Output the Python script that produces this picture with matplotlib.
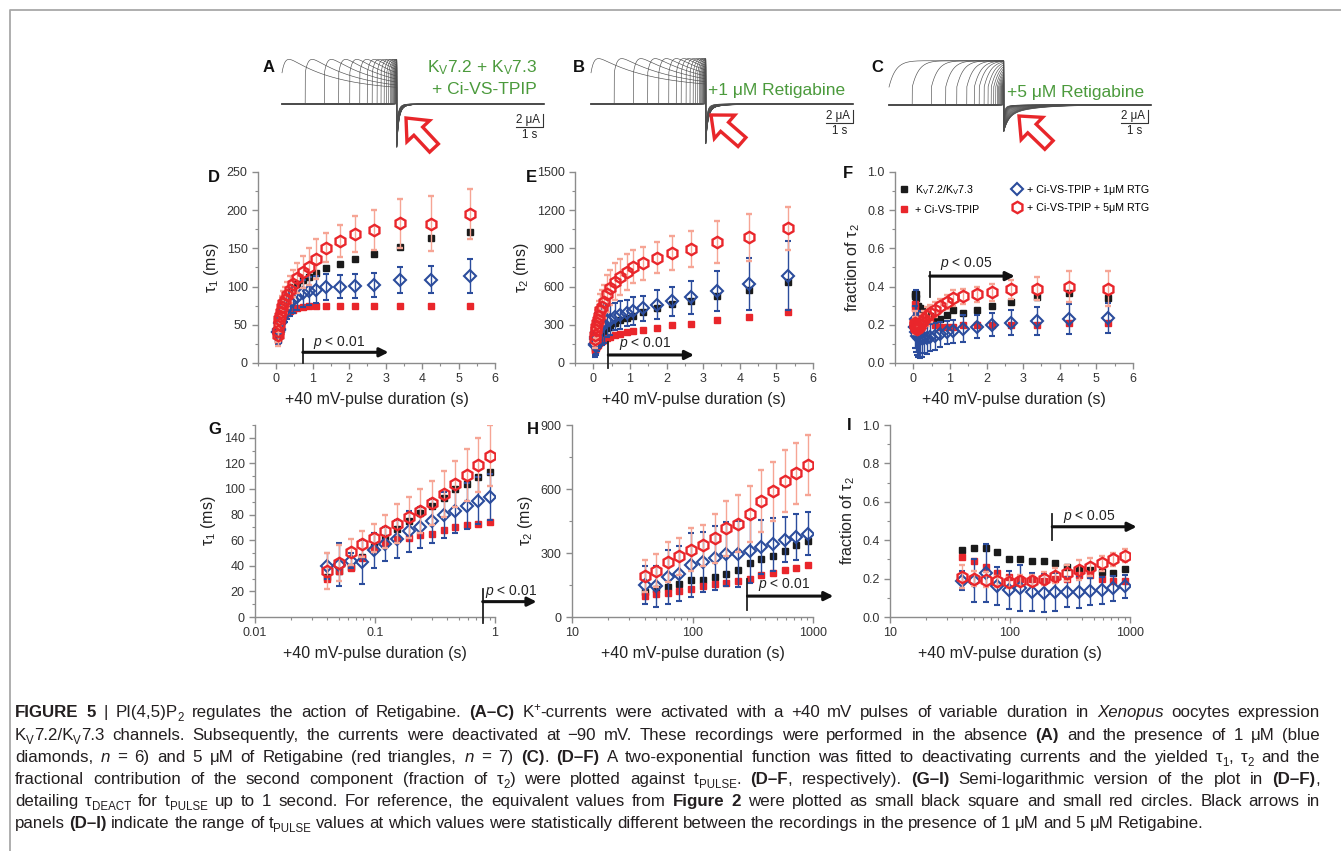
import re
import numpy as np
import matplotlib
matplotlib.use('Agg')
import matplotlib.pyplot as plt
from matplotlib import font_manager, patches
from matplotlib.lines import Line2D
from matplotlib.ticker import MultipleLocator, LogLocator, NullFormatter, FormatStrFormatter

W, H = 1341, 851


def has_font(name):
    try:
        font_manager.findfont(name, fallback_to_default=False)
        return True
    except ValueError:
        return False


FONT = 'Liberation Sans' if has_font('Liberation Sans') else 'DejaVu Sans'
NARROW = has_font('Liberation Sans Narrow')
CAP_FONT = 'Liberation Sans Narrow' if NARROW else FONT
CAP_SIZE = 13.0 if NARROW else 12.2

plt.rcParams['font.family'] = [FONT, 'DejaVu Sans']
plt.rcParams['mathtext.fontset'] = 'custom'
plt.rcParams['mathtext.rm'] = FONT
plt.rcParams['mathtext.it'] = FONT + ':italic'
plt.rcParams['mathtext.bf'] = FONT + ':bold'

BLUE = '#2b4c9c'
RED = '#e9262b'
SALMON = '#f6a595'
BLACK = '#1b1b1b'
GREEN = '#4b9a3c'
AXC = '#8c8c8c'

# ---- data ----
# pulse durations (s)
pulse_s = [0.040, 0.050, 0.063, 0.078, 0.098, 0.122, 0.153, 0.191, 0.238, 0.298,
           0.373, 0.466, 0.582, 0.728, 0.909, 1.09, 1.37, 1.74, 2.15, 2.68, 3.39, 4.25, 5.31]

# tau1 (ms)
tau1_kv = [31, 36, 39, 47, 55, 62, 69, 75, 81, 87, 93, 100, 104, 109, 113,
           118, 124, 130, 136, 143, 152, 163, 171]
tau1_ci = [30, 36, 38, 46, 53, 58, 61, 62, 64, 65, 68, 70, 72, 73, 74,
           74, 74, 74, 74, 74, 74, 74, 75]
tau1_rtg1 = [40, 41, 44, 43, 52, 57, 61, 67, 70, 75, 80, 83, 87, 91, 94,
             96, 99, 100, 101, 102, 108, 109, 114]
tau1_rtg1_err = [10, 17, 6, 17, 14, 13, 15, 16, 16, 17, 18, 17, 18, 18, 18,
                 18, 17, 15, 16, 16, 17, 18, 22]
tau1_rtg5 = [36, 42, 51, 57, 62, 67, 73, 78, 83, 89, 96, 104, 111, 119, 126,
             136, 151, 160, 169, 174, 183, 182, 195]
tau1_rtg5_err = [14, 14, 10, 10, 11, 13, 15, 16, 17, 17, 18, 18, 20, 21, 24,
                 26, 19, 21, 24, 26, 32, 36, 33]

# tau2 (ms)
tau2_kv = [117, 130, 141, 156, 172, 175, 188, 203, 219, 254, 271, 286, 311, 336, 357,
           373, 404, 433, 464, 490, 527, 574, 639]
tau2_ci = [99, 106, 114, 124, 133, 144, 155, 161, 169, 177, 196, 208, 218, 230, 243,
           250, 258, 274, 295, 308, 334, 365, 397]
tau2_rtg1 = [149, 144, 188, 203, 243, 258, 277, 294, 294, 310, 329, 341, 363, 376, 391,
             410, 430, 459, 483, 516, 566, 621, 686]
tau2_rtg1_err = [90, 97, 125, 129, 149, 141, 150, 150, 155, 150, 128, 125, 106, 109, 102,
                 112, 97, 115, 117, 131, 156, 205, 271]
tau2_rtg5 = [192, 216, 258, 285, 316, 336, 368, 415, 438, 482, 543, 590, 637, 673, 712,
             756, 783, 827, 866, 895, 950, 989, 1057]
tau2_rtg5_err = [74, 77, 94, 86, 102, 97, 117, 130, 133, 132, 146, 138, 146, 141, 141,
                 131, 130, 120, 133, 143, 167, 185, 169]

# fraction of tau2
frac_kv = [0.35, 0.36, 0.36, 0.34, 0.30, 0.30, 0.29, 0.29, 0.28, 0.26, 0.25, 0.245, 0.235, 0.23, 0.25,
           0.275, 0.26, 0.28, 0.30, 0.32, 0.345, 0.365, 0.34]
frac_ci = [0.31, 0.29, 0.26, 0.23, 0.21, 0.20, 0.20, 0.19, 0.20, 0.20, 0.22, 0.22, 0.20, 0.19, 0.19,
           0.19, 0.20, 0.20, 0.20, 0.20, 0.20, 0.21, 0.21]
frac_rtg1 = [0.19, 0.19, 0.23, 0.16, 0.14, 0.15, 0.13, 0.125, 0.13, 0.13, 0.13, 0.135, 0.14, 0.15, 0.16,
             0.165, 0.18, 0.19, 0.20, 0.21, 0.22, 0.23, 0.235]
frac_rtg1_err = [0.05, 0.11, 0.15, 0.10, 0.10, 0.12, 0.10, 0.10, 0.10, 0.08, 0.085, 0.07, 0.07, 0.065, 0.06,
                 0.06, 0.07, 0.06, 0.06, 0.065, 0.075, 0.08, 0.08]
frac_rtg5 = [0.21, 0.20, 0.195, 0.185, 0.18, 0.19, 0.19, 0.20, 0.215, 0.23, 0.245, 0.26, 0.28, 0.30, 0.32,
             0.34, 0.35, 0.36, 0.37, 0.385, 0.39, 0.40, 0.39]
frac_rtg5_err = [0.06, 0.04, 0.04, 0.03, 0.03, 0.03, 0.03, 0.035, 0.04, 0.04, 0.05, 0.045, 0.04, 0.035, 0.035,
                 0.04, 0.04, 0.04, 0.045, 0.05, 0.06, 0.08, 0.09]

# significance arrows: start of bar, end of arrow, label
p_start = [0.73, 0.41, 0.45, 0.79, 286, 225]
p_end = [3.08, 2.75, 2.77, 2.22, 1475, 1136]
p_label = ['0.01', '0.01', '0.05', '0.01', '0.01', '0.05']

# current traces (A-C): model parameters
trace_title = [[r'K$_\mathrm{V}$7.2 + K$_\mathrm{V}$7.3', '+ Ci-VS-TPIP'],
               ['+1 μM Retigabine'], ['+5 μM Retigabine']]
trace_amp = [8.0, 8.0, 6.9]        # μA
trace_jump = [0.4, 0.4, 0.6]
trace_tau_act = [0.12, 0.12, 0.25]  # s
trace_plateau = [0.25, 0.3, 0.97]
trace_tau_dep = [1.8, 2.0, 3.0]     # s
tail_gain = [1.0, 0.9, 0.6]
record_s = 9.7

caption = [
    "**FIGURE 5** | PI(4,5)P_{2} regulates the action of Retigabine. **(A–C)** K^{+}-currents were activated with a +40 mV pulses of variable duration in *Xenopus* oocytes expression",
    "K_{V}7.2/K_{V}7.3 channels. Subsequently, the currents were deactivated at −90 mV. These recordings were performed in the absence **(A)** and the presence of 1 μM (blue",
    "diamonds, *n* = 6) and 5 μM of Retigabine (red triangles, *n* = 7) **(C)**. **(D–F)** A two-exponential function was fitted to deactivating currents and the yielded τ_{1}, τ_{2} and the",
    "fractional contribution of the second component (fraction of τ_{2}) were plotted against t_{PULSE}. **(D–F**, respectively). **(G–I)** Semi-logarithmic version of the plot in **(D–F)**,",
    "detailing τ_{DEACT} for t_{PULSE} up to 1 second. For reference, the equivalent values from **Figure 2** were plotted as small black square and small red circles. Black arrows in",
    "panels **(D–I)** indicate the range of t_{PULSE} values at which values were statistically different between the recordings in the presence of 1 μM and 5 μM Retigabine.",
]

fig = plt.figure(figsize=(W / 100, H / 100), dpi=100)


def px_axes(l, t, r, b):
    return fig.add_axes([l / W, 1 - b / H, (r - l) / W, (b - t) / H])


def style(ax, ylabel, xlabel='+40 mV-pulse duration (s)'):
    for s in ['top', 'right']:
        ax.spines[s].set_visible(False)
    for s in ['left', 'bottom']:
        ax.spines[s].set_color(AXC)
        ax.spines[s].set_linewidth(1.0)
    ax.tick_params(which='both', direction='out', color=AXC, labelcolor='#333333', labelsize=9)
    ax.tick_params(which='major', length=4, width=1)
    ax.tick_params(which='minor', length=2.3, width=0.8)
    ax.set_ylabel(ylabel, fontsize=11.5, color='#222222', labelpad=4)
    ax.set_xlabel(xlabel, fontsize=11.5, color='#222222', labelpad=5)


def plot_series(ax, x, kv, ci, r1, r1e, r5, r5e):
    ax.plot(x, kv, 's', color=BLACK, ms=4.3, zorder=3, clip_on=False)
    ax.plot(x, ci, 's', color=RED, ms=4.3, zorder=3, clip_on=False)
    ax.errorbar(x, r1, yerr=r1e, fmt='D', mfc='none', mec=BLUE, mew=1.5, ms=6.3,
                ecolor=BLUE, elinewidth=1, capsize=2, capthick=1, zorder=4)
    ax.errorbar(x, r5, yerr=r5e, fmt='h', mfc='none', mec=RED, mew=1.7, ms=8.2,
                ecolor=SALMON, elinewidth=1, capsize=2, capthick=1, zorder=5)


def p_arrow(ax, i, ylo, yhi, yarr, ytxt, xtxt):
    ax.plot([p_start[i], p_start[i]], [ylo, yhi], color='#222222', lw=1.3, clip_on=False, zorder=6)
    ax.annotate('', xy=(p_end[i], yarr), xytext=(p_start[i], yarr), annotation_clip=False,
                arrowprops=dict(arrowstyle='-|>', color='#111111', lw=2.2, mutation_scale=13,
                                shrinkA=0, shrinkB=0), zorder=6)
    ax.text(xtxt, ytxt, r'$\mathit{p}$ < ' + p_label[i], ha='center', va='baseline',
            fontsize=10, color='#222222')


n15 = 15
pulse_ms = [p * 1000 for p in pulse_s]

# ---- D ----
axD = px_axes(258, 172, 495, 363)
plot_series(axD, pulse_s, tau1_kv, tau1_ci, tau1_rtg1, tau1_rtg1_err, tau1_rtg5, tau1_rtg5_err)
axD.set_xlim(-0.5, 6)
axD.set_ylim(0, 250)
axD.xaxis.set_major_locator(MultipleLocator(1))
axD.xaxis.set_minor_locator(MultipleLocator(0.5))
axD.yaxis.set_major_locator(MultipleLocator(50))
axD.yaxis.set_minor_locator(MultipleLocator(25))
style(axD, r'$\mathrm{\tau_1}$ (ms)')
p_arrow(axD, 0, 0, 31, 14, 22, 1.73)

# ---- E ----
axE = px_axes(575, 172, 813, 363)
plot_series(axE, pulse_s, tau2_kv, tau2_ci, tau2_rtg1, tau2_rtg1_err, tau2_rtg5, tau2_rtg5_err)
axE.set_xlim(-0.5, 6)
axE.set_ylim(0, 1500)
axE.xaxis.set_major_locator(MultipleLocator(1))
axE.xaxis.set_minor_locator(MultipleLocator(0.5))
axE.yaxis.set_major_locator(MultipleLocator(300))
axE.yaxis.set_minor_locator(MultipleLocator(150))
style(axE, r'$\mathrm{\tau_2}$ (ms)')
p_arrow(axE, 1, -40, 165, 63, 126, 1.42)

# ---- F ----
axF = px_axes(895, 172, 1133, 363)
plot_series(axF, pulse_s, frac_kv, frac_ci, frac_rtg1, frac_rtg1_err, frac_rtg5, frac_rtg5_err)
axF.set_xlim(-0.5, 6)
axF.set_ylim(0, 1.0)
axF.xaxis.set_major_locator(MultipleLocator(1))
axF.xaxis.set_minor_locator(MultipleLocator(0.5))
axF.yaxis.set_major_locator(MultipleLocator(0.2))
axF.yaxis.set_minor_locator(MultipleLocator(0.1))
axF.yaxis.set_major_formatter(FormatStrFormatter('%.1f'))
style(axF, r'fraction of $\mathrm{\tau_2}$')
p_arrow(axF, 2, 0.344, 0.478, 0.455, 0.503, 1.45)
handles = [Line2D([], [], marker='s', ls='none', color=BLACK, ms=4.3),
           Line2D([], [], marker='s', ls='none', color=RED, ms=4.3),
           Line2D([], [], marker='D', ls='none', mfc='none', mec=BLUE, mew=1.5, ms=6.3),
           Line2D([], [], marker='h', ls='none', mfc='none', mec=RED, mew=1.7, ms=8.2)]
labels = [r'K$_\mathrm{V}$7.2/K$_\mathrm{V}$7.3', '+ Ci-VS-TPIP',
          '+ Ci-VS-TPIP + 1μM RTG', '+ Ci-VS-TPIP + 5μM RTG']
axF.legend(handles, labels, ncol=2, loc='upper left', bbox_to_anchor=(-0.01, 0.975),
           frameon=False, fontsize=7.7, handlelength=1.0, handletextpad=0.5,
           columnspacing=3.0, labelspacing=0.75, borderaxespad=0.2)

# ---- G ----
axG = px_axes(255, 425, 495, 617)
plot_series(axG, pulse_s[:n15], tau1_kv[:n15], tau1_ci[:n15], tau1_rtg1[:n15], tau1_rtg1_err[:n15],
            tau1_rtg5[:n15], tau1_rtg5_err[:n15])
axG.set_xscale('log')
axG.set_xlim(0.01, 1)
axG.set_ylim(0, 150)
axG.set_xticks([0.01, 0.1, 1])
axG.set_xticklabels(['0.01', '0.1', '1'])
axG.xaxis.set_minor_locator(LogLocator(subs=range(2, 10)))
axG.xaxis.set_minor_formatter(NullFormatter())
axG.yaxis.set_major_locator(MultipleLocator(20))
axG.yaxis.set_minor_locator(MultipleLocator(10))
style(axG, r'$\mathrm{\tau_1}$ (ms)')
p_arrow(axG, 3, -5, 22, 12, 17, 1.36)

# ---- H ----
axH = px_axes(572, 425, 813, 617)
plot_series(axH, pulse_ms[:n15], tau2_kv[:n15], tau2_ci[:n15], tau2_rtg1[:n15], tau2_rtg1_err[:n15],
            tau2_rtg5[:n15], tau2_rtg5_err[:n15])
axH.set_xscale('log')
axH.set_xlim(10, 1000)
axH.set_ylim(0, 900)
axH.set_xticks([10, 100, 1000])
axH.set_xticklabels(['10', '100', '1000'])
axH.xaxis.set_minor_locator(LogLocator(subs=range(2, 10)))
axH.xaxis.set_minor_formatter(NullFormatter())
axH.yaxis.set_major_locator(MultipleLocator(300))
axH.yaxis.set_minor_locator(MultipleLocator(150))
style(axH, r'$\mathrm{\tau_2}$ (ms)')
p_arrow(axH, 4, 34, 180, 98, 136, 578)

# ---- I ----
axI = px_axes(890, 425, 1130, 617)
plot_series(axI, pulse_ms[:n15], frac_kv[:n15], frac_ci[:n15], frac_rtg1[:n15], frac_rtg1_err[:n15],
            frac_rtg5[:n15], frac_rtg5_err[:n15])
axI.set_xscale('log')
axI.set_xlim(10, 1000)
axI.set_ylim(0, 1.0)
axI.set_xticks([10, 100, 1000])
axI.set_xticklabels(['10', '100', '1000'])
axI.xaxis.set_minor_locator(LogLocator(subs=range(2, 10)))
axI.xaxis.set_minor_formatter(NullFormatter())
axI.yaxis.set_major_locator(MultipleLocator(0.2))
axI.yaxis.set_minor_locator(MultipleLocator(0.1))
axI.yaxis.set_major_formatter(FormatStrFormatter('%.1f'))
style(axI, r'fraction of $\mathrm{\tau_2}$')
p_arrow(axI, 5, 0.4, 0.536, 0.47, 0.505, 455)

# ---- A-C current traces ----
PX_S, PX_UA = 27.0, 6.5
trace_pulses = pulse_s[:22]
trace_fits = [(tau1_ci, tau2_ci, frac_ci), (tau1_rtg1, tau2_rtg1, frac_rtg1),
              (tau1_rtg5, tau2_rtg5, frac_rtg5)]
trace_origin = [(282, 104), (591, 104), (889, 105)]   # px of first pulse start / baseline
scalebar_px = [(543, 114), (853, 110), (1148, 110)]

t = np.linspace(0, record_s, 4000)
T = max(trace_pulses)
for k in range(3):
    x0, base = trace_origin[k]
    l, r, top, bot = x0 - 15, x0 + 275, 52, 152
    ax = px_axes(l, top, r, bot)
    ax.set_xlim((l - x0) / PX_S, (r - x0) / PX_S)
    ax.set_ylim(-(bot - base) / PX_UA, (base - top) / PX_UA)
    ax.axis('off')
    t1, t2, fr = trace_fits[k]
    for j, d in enumerate(trace_pulses):
        y = np.zeros_like(t)
        on = (t >= T - d) & (t < T)
        dt = t[on] - (T - d)
        act = 1 - trace_jump[k] * np.exp(-dt / trace_tau_act[k])
        dep = trace_plateau[k] + (1 - trace_plateau[k]) * np.exp(-dt / trace_tau_dep[k])
        y[on] = trace_amp[k] * act * dep
        i_end = trace_amp[k] * (1 - trace_jump[k] * np.exp(-d / trace_tau_act[k])) * \
            (trace_plateau[k] + (1 - trace_plateau[k]) * np.exp(-d / trace_tau_dep[k]))
        off = t >= T
        dt = t[off] - T
        f = fr[j]
        y[off] = -tail_gain[k] * i_end * ((1 - f) * np.exp(-dt / (t1[j] / 1000)) +
                                          f * np.exp(-dt / (t2[j] / 1000)))
        ax.plot(t, y, color='0.3', lw=0.45)
    # scale bar: 2 µA / 1 s
    sx, sy = scalebar_px[k]
    xs = (sx - x0) / PX_S
    ys = (base - sy) / PX_UA
    ax.plot([xs - 1, xs, xs], [ys - 2, ys - 2, ys], color='#333333', lw=0.8, clip_on=False)
    ax.text(xs - 0.12, ys - 1, '2 μA', ha='right', va='center', fontsize=8.3, color='#222222')
    ax.text(xs - 0.5, ys - 2.35, '1 s', ha='center', va='top', fontsize=8.3, color='#222222')

# ---- overlay: frame, letters, labels, arrows, caption ----
ov = fig.add_axes([0, 0, 1, 1])
ov.set_xlim(0, W)
ov.set_ylim(H, 0)
ov.axis('off')
ov.plot([10, 10, W], [H, 10, 10], color='#a8a8a8', lw=1.3)

letters = {'A': (269, 67), 'B': (579, 67), 'C': (877, 67), 'D': (214, 177), 'E': (531, 177),
           'F': (848, 173), 'G': (215, 429), 'H': (533, 429), 'I': (849, 425)}
for s, (lx, ly) in letters.items():
    ov.text(lx, ly, s, ha='center', va='center', fontsize=12, fontweight='bold', color='#111111')

ov.text(537, 68, trace_title[0][0], ha='right', va='center', fontsize=12.5, color=GREEN)
ov.text(537, 90, trace_title[0][1], ha='right', va='center', fontsize=12.5, color=GREEN)
ov.text(708, 90, trace_title[1][0], ha='left', va='center', fontsize=12.5, color=GREEN)
ov.text(1007, 92, trace_title[2][0], ha='left', va='center', fontsize=12.5, color=GREEN)

for (tx, ty), (hx, hy) in [((434, 148), (406, 118)), ((742, 142), (711, 115)), ((1049, 145), (1019, 116))]:
    ov.add_patch(patches.FancyArrow(tx, ty, hx - tx, hy - ty, width=12, head_width=31,
                                    head_length=18, length_includes_head=True,
                                    fc='white', ec='#e8262a', lw=2.4, zorder=8))

renderer = fig.canvas.get_renderer()
SIZE_PX = CAP_SIZE * 100 / 72


def rich_line(x0, x1, y, markup, justify=True):
    words = [[]]
    for m in re.finditer(r'\*\*(.+?)\*\*|\*(.+?)\*|_\{(.+?)\}|\^\{(.+?)\}|([^*_^]+)', markup):
        b, it, sub, sup, plain = m.groups()
        if b:
            txt, kind = b, 'b'
        elif it:
            txt, kind = it, 'i'
        elif sub:
            txt, kind = sub, 'sub'
        elif sup:
            txt, kind = sup, 'sup'
        else:
            txt, kind = plain, 'n'
        for j, part in enumerate(txt.split(' ')):
            if j > 0:
                words.append([])
            if part:
                words[-1].append((part, kind))
    words = [w for w in words if w]
    items = []
    for w in words:
        runs = []
        for txt, kind in w:
            kw = dict(fontsize=CAP_SIZE, family=[CAP_FONT, 'DejaVu Sans'], ha='left',
                      va='baseline', color='#231f20')
            dy = 0
            if kind == 'b':
                kw['fontweight'] = 'bold'
            elif kind == 'i':
                kw['fontstyle'] = 'italic'
            elif kind == 'sub':
                kw['fontsize'] = CAP_SIZE * 0.68
                dy = SIZE_PX * 0.22
            elif kind == 'sup':
                kw['fontsize'] = CAP_SIZE * 0.68
                dy = -SIZE_PX * 0.38
            tt = ov.text(0, y + dy, txt, **kw)
            runs.append((tt, tt.get_window_extent(renderer).width))
        items.append(runs)
    widths = [sum(wd for _, wd in runs) for runs in items]
    space = SIZE_PX * 0.26
    if justify and len(items) > 1:
        space = max((x1 - x0 - sum(widths)) / (len(items) - 1), SIZE_PX * 0.18)
    x = x0
    for runs, wsum in zip(items, widths):
        cx = x
        for tt, wd in runs:
            tt.set_x(cx)
            cx += wd
        x += wsum + space


cap_base = [717, 740, 762, 784, 806, 828]
for i, line in enumerate(caption):
    rich_line(15, 1320, cap_base[i], line, justify=(i < len(caption) - 1))

fig.savefig('out.png', dpi=100)
